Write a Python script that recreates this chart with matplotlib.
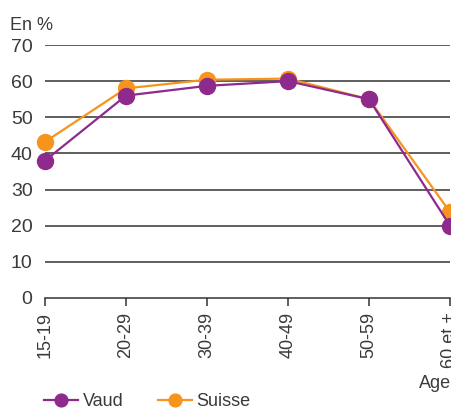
import numpy as np
import matplotlib.pyplot as plt

plt.rcParams['font.family'] = ['Liberation Sans', 'DejaVu Sans']

ages = ['15-19', '20-29', '30-39', '40-49', '50-59', '60 et +']
vaud = [38, 56, 58.7, 60, 55, 20]
suisse = [43.2, 58, 60.4, 60.7, 55, 23.8]
yticks = [0, 10, 20, 30, 40, 50, 60, 70]

purple = '#8e2a8e'
orange = '#f7941d'
textc = '#3a3a3a'

fig = plt.figure(figsize=(4.51, 4.12), dpi=100)
ax = fig.add_axes([45/451, 1-298/412, 405/451, 253/412])

x = np.arange(len(ages))
ax.plot(x, suisse, color=orange, lw=1.6, marker='o', ms=11.5, label='Suisse', clip_on=False, zorder=3)
ax.plot(x, vaud, color=purple, lw=1.6, marker='o', ms=11.5, label='Vaud', clip_on=False, zorder=4)

ax.set_xlim(0, 5)
ax.set_ylim(0, 70)
ax.set_yticks(yticks)
ax.set_xticks(x)
ax.set_xticklabels(ages, rotation=90)
for y in yticks[1:]:
    ax.axhline(y, color='#333333', lw=1.1, zorder=1)

for s in ['top', 'right', 'left']:
    ax.spines[s].set_visible(False)
ax.spines['bottom'].set_color('#333333')
ax.spines['bottom'].set_linewidth(1.1)
ax.tick_params(axis='y', length=0, pad=9, labelsize=14, labelcolor=textc)
ax.tick_params(axis='x', length=6, width=1.1, color='#333333', pad=4, labelsize=13, labelcolor=textc)

fig.text(10/451, 1-25/412, 'En %', fontsize=13, color=textc, va='center', ha='left')
fig.text(451/451, 1-384/412, 'Age', fontsize=13, color=textc, va='center', ha='right')

h, l = ax.get_legend_handles_labels()
leg = fig.legend(h[::-1], l[::-1], loc='center left', bbox_to_anchor=(44/451, 1-402/412),
                 ncol=2, frameon=False, fontsize=13, handlelength=1.9, columnspacing=1.9,
                 handletextpad=0.25, markerscale=0.8, borderaxespad=0, borderpad=0)
for t in leg.get_texts():
    t.set_color(textc)

fig.savefig('out.png', dpi=100)
